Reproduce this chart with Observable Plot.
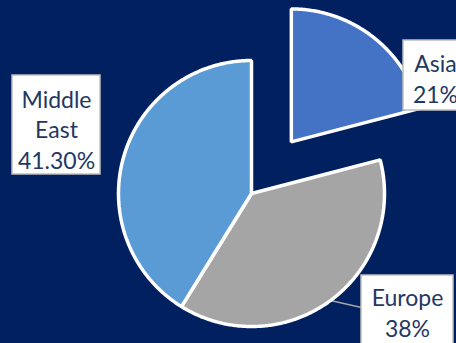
<!DOCTYPE html>
<html>
<head>
<meta charset="utf-8">
<script src="https://cdn.jsdelivr.net/npm/d3@7"></script>
<script src="https://cdn.jsdelivr.net/npm/@observablehq/plot@0.6"></script>
<style>
  html, body { margin: 0; padding: 0; background: #002060; }
  #chart svg { display: block; }
</style>
</head>
<body>
<div id="chart"></div>
<script>
// Data
const categories = ["Asia", "Europe", "Middle East"];
const values = [21, 38, 41.3];
const valueLabels = ["21%", "38%", "41.30%"];
const colors = ["#4472C4", "#A5A5A5", "#5B9BD5"];

// Layout (pixels)
const W = 456, H = 343;
const cx = 251, cy = 193, R = 133;
const explode = {"Asia": 0.49};
const px2x = p => (p - cx) / R;
const px2y = p => (cy - p) / R;

const pie = d3.pie().sort(null).value(d => d.value)(
  categories.map((c, i) => ({cat: c, value: values[i], label: valueLabels[i]}))
);

const pts = [];
for (const s of pie) {
  const c = s.data.cat;
  const mid = (s.startAngle + s.endAngle) / 2;
  const e = explode[c] || 0;
  const ox = e * Math.sin(mid), oy = e * Math.cos(mid);
  const dir = a => [Math.sin(a), Math.cos(a)];
  const [sx, sy] = dir(s.startAngle);
  pts.push({cat: c, x: ox + 0.5 * sx, y: oy + 0.5 * sy});
  const n = Math.max(8, Math.ceil((s.endAngle - s.startAngle) / 0.01));
  for (let k = 0; k <= n; k++) {
    const a = s.startAngle + (s.endAngle - s.startAngle) * k / n;
    const [dx, dy] = dir(a);
    pts.push({cat: c, x: ox + dx, y: oy + dy});
  }
  pts.push({cat: c, x: ox, y: oy});
  pts.push({cat: c, x: ox + 0.5 * sx, y: oy + 0.5 * sy});
}

// Label boxes (pixel layout)
const boxLayout = {
  "Asia": {x1: 403, x2: 468, y1: 40, y2: 110, tx: 435, ty: 77},
  "Europe": {x1: 361, x2: 453, y1: 275, y2: 360, tx: 407, ty: 311},
  "Middle East": {x1: 12, x2: 100, y1: 75, y2: 174, tx: 56, ty: 128}
};
const boxes = pie.map(s => {
  const b = boxLayout[s.data.cat];
  return {
    cat: s.data.cat,
    x1: px2x(b.x1), x2: px2x(b.x2), y1: px2y(b.y2), y2: px2y(b.y1),
    tx: px2x(b.tx), ty: px2y(b.ty),
    text: s.data.cat.replace(" ", "\n") + "\n" + s.data.label
  };
});

// Leader line for Europe
const eu = pie.find(s => s.data.cat === "Europe");
const euMid = (eu.startAngle + eu.endAngle) / 2;
const leader = [
  {x: Math.sin(euMid), y: Math.cos(euMid)},
  {x: px2x(361), y: px2y(307)}
];

const chart = Plot.plot({
  width: W,
  height: H,
  margin: 0,
  x: {domain: [px2x(0), px2x(W)], axis: null},
  y: {domain: [px2y(H), px2y(0)], axis: null},
  color: {domain: categories, range: colors},
  style: {background: "#002060", overflow: "hidden"},
  marks: [
    Plot.line(leader, {x: "x", y: "y", stroke: "#A5A5A5", strokeWidth: 1.5}),
    Plot.line(pts, {x: "x", y: "y", z: "cat", fill: "cat", stroke: "white", strokeWidth: 3.5, strokeLinejoin: "miter", curve: "linear"}),
    Plot.rect(boxes, {x1: "x1", x2: "x2", y1: "y1", y2: "y2", fill: "white", stroke: "#BFBFBF", strokeWidth: 1.5}),
    Plot.text(boxes, {x: "tx", y: "ty", text: "text", fill: "#1F3864", fontSize: 23, lineHeight: 1.34, fontFamily: "Lato", fontWeight: 400, textAnchor: "middle", lineAnchor: "middle"})
  ]
});
document.getElementById("chart").appendChild(chart);
</script>
</body>
</html>
